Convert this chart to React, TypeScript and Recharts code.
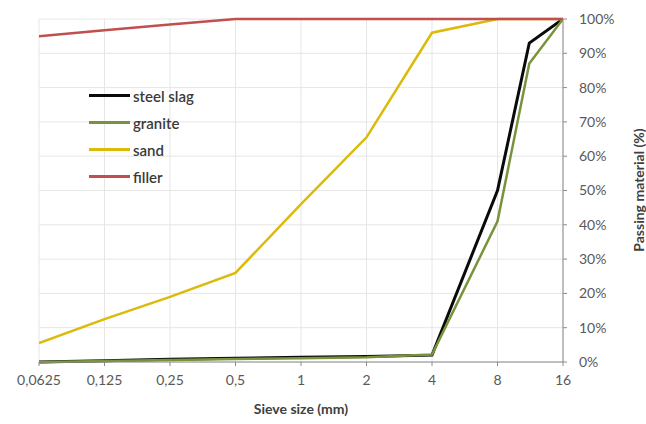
import React from 'react';
import {
  LineChart,
  Line,
  XAxis,
  YAxis,
  CartesianGrid
} from 'recharts';

// Sieve sizes (mm), log2 x axis
const sieveSizes = [0.0625, 0.125, 0.25, 0.5, 1, 2, 4, 8, 11.2, 16];
const xTicks = [0.0625, 0.125, 0.25, 0.5, 1, 2, 4, 8, 16];
const yTicks = [0, 10, 20, 30, 40, 50, 60, 70, 80, 90, 100];

// Passing material (%) per sieve
const steelSlag = [0, 0.4, 0.8, 1.1, 1.4, 1.6, 2, 50, 93, 100];
const granite = [0, 0.3, 0.6, 0.9, 1.1, 1.4, 2.2, 41, 87, 100];
const sand = [5.5, 12.5, 19, 26, 46, 65.5, 96, 100, 100, 100];
const filler = [95, 96.7, 98.4, 100, 100, 100, 100, 100, 100, 100];

const series = [
  { key: 'steelSlag', name: 'steel slag', color: '#0a0a0a', width: 3 },
  { key: 'granite', name: 'granite', color: '#77933C', width: 2.5 },
  { key: 'sand', name: 'sand', color: '#DDB90A', width: 2.5 },
  { key: 'filler', name: 'filler', color: '#C0504D', width: 2.5 }
];

const data = sieveSizes.map((size, i) => ({
  size,
  steelSlag: steelSlag[i],
  granite: granite[i],
  sand: sand[i],
  filler: filler[i]
}));

const FONT = 'Lato, "Open Sans", sans-serif';

const formatSize = (v: number) => String(v).replace('.', ',');

function ChartLegend() {
  return (
    <div style={{ position: 'absolute', left: 89, top: 82, fontFamily: FONT }}>
      {series.map((s) => (
        <div key={s.key} style={{ display: 'flex', alignItems: 'center', height: 27 }}>
          <div style={{ width: 41, height: 3, background: s.color, marginRight: 3 }} />
          <span style={{ fontSize: 15, color: '#3a3a3a', fontWeight: 600 }}>{s.name}</span>
        </div>
      ))}
    </div>
  );
}

export default function App() {
  return (
    <div style={{ position: 'absolute', left: 0, top: 0, width: 646, height: 424, background: '#fff' }}>
      <LineChart
        width={646}
        height={424}
        data={data}
        margin={{ top: 19, right: 23, left: 39, bottom: 32 }}
      >
        <CartesianGrid stroke="#e6e6e6" />
        <XAxis
          dataKey="size"
          type="number"
          scale="log"
          domain={[0.0625, 16]}
          ticks={xTicks}
          tickFormatter={formatSize}
          allowDataOverflow
          height={30}
          stroke="#8a8a8a"
          tickSize={4}
          tickMargin={9}
          tick={{ fill: '#595959', fontSize: 14, fontFamily: FONT }}
          interval={0}
        />
        <YAxis
          orientation="right"
          width={60}
          domain={[0, 100]}
          ticks={yTicks}
          tickFormatter={(v: number) => `${v}%`}
          stroke="#8a8a8a"
          tickSize={4}
          tickMargin={12}
          tick={{ fill: '#595959', fontSize: 14, fontFamily: FONT, textAnchor: 'start' }}
          interval={0}
        />
        {series.map((s) => (
          <Line
            key={s.key}
            dataKey={s.key}
            name={s.name}
            stroke={s.color}
            strokeWidth={s.width}
            dot={false}
            type="linear"
            isAnimationActive={false}
          />
        ))}
        <text
          x={301}
          y={414}
          textAnchor="middle"
          fontFamily={FONT}
          fontSize={14}
          fontWeight={700}
          fill="#404040"
        >
          Sieve size (mm)
        </text>
        <text
          x={644}
          y={190}
          textAnchor="middle"
          fontFamily={FONT}
          fontSize={14}
          fontWeight={700}
          fill="#404040"
          transform="rotate(-90, 644, 190)"
        >
          Passing material (%)
        </text>
      </LineChart>
      <ChartLegend />
    </div>
  );
}
